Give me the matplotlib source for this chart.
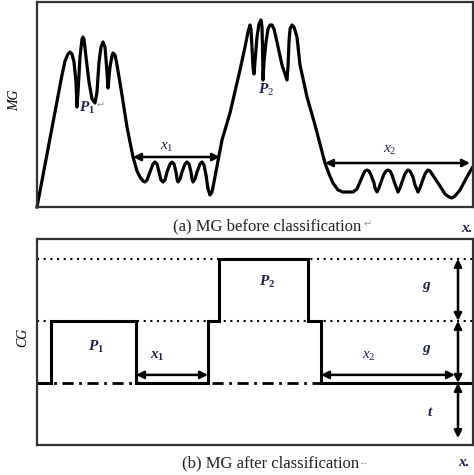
import matplotlib
matplotlib.use("Agg")
import matplotlib.pyplot as plt

plt.rcParams["font.family"] = ["Liberation Serif", "DejaVu Sans"]
plt.rcParams["mathtext.fontset"] = "custom"
plt.rcParams["mathtext.rm"] = "Liberation Serif"
plt.rcParams["mathtext.it"] = "Liberation Serif:italic"
plt.rcParams["mathtext.bf"] = "Liberation Serif:bold"
plt.rcParams["mathtext.bfit"] = "Liberation Serif:italic:bold"

# (a) MG curve before classification
mg_x = [0, 25, 28, 31, 33, 35, 37, 39, 40,
        41, 43, 45, 46, 47, 49, 52, 55, 58,
        60, 62, 64, 66, 68, 70, 71,
        73, 75, 76, 78, 80, 85, 90, 96, 100, 103, 106,
        108, 110, 113, 116, 118, 120, 122, 124, 126, 128, 130, 133, 135, 137, 139,
        140, 141, 143, 145, 148, 150, 152, 154, 155, 156, 158, 160, 163, 165, 167,
        169, 171, 173, 175, 177, 185, 193, 203, 208, 211, 213, 214, 215, 216, 217,
        218, 220, 222, 224, 225, 225.5, 226,
        227, 229, 231, 233, 235, 237, 240, 245, 250,
        251, 252, 253, 255, 257, 260, 263, 270, 278, 288, 292, 296, 301, 306, 316,
        320, 323, 326, 328, 330, 332, 334, 337, 338, 340, 342, 344, 347, 349, 351,
        353, 355, 358, 361, 363, 365, 368, 370, 371, 373, 376, 378, 381, 383, 385,
        388, 390, 391, 393, 397, 403, 408, 412, 415, 418, 423, 431, 437]
mg_y = [0, 132, 146, 153, 155, 153, 145, 125, 100,
        115, 150, 168, 170, 168, 150, 125, 108, 104,
        115, 145, 160, 165, 160, 135, 119,
        140, 151, 154, 152, 142, 112, 80, 50, 36, 30, 26,
        25, 27, 35, 43, 45, 43, 35, 27, 25, 27, 35, 43, 45, 43, 35,
        28, 25, 28, 35, 43, 45, 43, 35, 28, 25, 28, 35, 43, 45, 42,
        32, 18, 12, 15, 25, 67, 94, 137, 160, 175, 182, 178, 160, 140, 133,
        145, 170, 183, 187, 180, 160, 127,
        145, 165, 178, 182, 182, 178, 165, 142, 127,
        140, 165, 178, 182, 180, 170, 142, 110, 82, 44, 33, 24, 17, 15, 15,
        18, 25, 32, 36, 37, 36, 32, 24, 19, 15, 19, 25, 33, 36, 37,
        36, 32, 23, 15, 19, 25, 33, 36, 37, 36, 30, 22, 15, 19, 25,
        33, 36, 37, 36, 30, 21, 13, 10, 9, 11, 17, 32, 42]

# (b) CG step curve after classification
cg_edges = [0, 14, 99, 171, 182, 271, 284, 436]
cg_levels = [1, 2, 1, 2, 3, 2, 1]
base_level = 1
dot_levels = [2, 3]

fig = plt.figure(figsize=(4.74, 4.75), dpi=100)
ax1 = fig.add_axes([37 / 474, 1 - 207 / 475, 436 / 474, 205 / 475])
ax2 = fig.add_axes([37 / 474, 1 - 445 / 475, 436 / 474, 206 / 475])

for ax in (ax1, ax2):
    ax.set_xticks([])
    ax.set_yticks([])
    for s in ax.spines.values():
        s.set_linewidth(1.6)
        s.set_color("#333333")

lab_c = "#1c2250"

# ---- top panel
ax1.plot(mg_x, mg_y, color="k", lw=2.3, solid_joinstyle="round", clip_on=False)
ax1.set_xlim(0, 436)
ax1.set_ylim(0, 205)

arr = dict(arrowstyle="<|-|>", color="k", lw=1.8, mutation_scale=11, shrinkA=0, shrinkB=0)
ax1.annotate("", xy=(183, 50), xytext=(96, 50), arrowprops=arr)
ax1.annotate("", xy=(433, 44), xytext=(288, 44), arrowprops=arr)
ax1.text(130, 60, r"$x_{1}$", fontsize=11, color=lab_c, ha="center", va="center")
ax1.text(353, 57, r"$x_{2}$", fontsize=11, color=lab_c, ha="center", va="center")
ax1.text(50, 99, r"$\mathbfit{P}_{\mathbf{1}}$", fontsize=11, color=lab_c, ha="center", va="center")
ax1.text(60, 101, "\u21b5", fontsize=7, color="#999999", ha="left", va="center")
ax1.text(229, 117, r"$\mathbfit{P}_{2}$", fontsize=11, color=lab_c, ha="center", va="center")

# ---- bottom panel
ax2.set_xlim(0, 436)
ax2.set_ylim(0, 3.32)
for lv in dot_levels:
    ax2.axhline(lv, color="k", lw=1.5, ls=(0, (1, 2.2)))
ax2.axhline(base_level, color="k", lw=2, ls=(0, (4, 2, 1, 2)))
ax2.stairs(cg_levels, cg_edges, baseline=None, color="k", lw=2.2)

ax2.annotate("", xy=(171, 1.13), xytext=(99, 1.13), arrowprops=arr)
ax2.annotate("", xy=(418, 1.13), xytext=(284, 1.13), arrowprops=arr)
ax2.annotate("", xy=(421, 2), xytext=(421, 3), arrowprops=arr)
ax2.annotate("", xy=(421, 1), xytext=(421, 2), arrowprops=arr)
ax2.annotate("", xy=(421, 0.11), xytext=(421, 1), arrowprops=arr)

ax2.text(59, 1.58, r"$\mathbfit{P}_{\mathbf{1}}$", fontsize=11, color=lab_c, ha="center", va="center")
ax2.text(230, 2.63, r"$\mathbfit{P}_{\mathbf{2}}$", fontsize=11, color=lab_c, ha="center", va="center")
ax2.text(120, 1.42, r"$\mathbfit{x}_{\mathbf{1}}$", fontsize=11, color=lab_c, ha="center", va="center")
ax2.text(332, 1.42, r"$x_{2}$", fontsize=11, color=lab_c, ha="center", va="center")
ax2.text(390, 2.55, r"$\mathbfit{g}$", fontsize=11, color=lab_c, ha="center", va="center")
ax2.text(390, 1.53, r"$\mathbfit{g}$", fontsize=11, color=lab_c, ha="center", va="center")
ax2.text(393, 0.52, r"$\mathbfit{t}$", fontsize=11, color=lab_c, ha="center", va="center")

# ---- axis names and captions
fig.text(15 / 474, 1 - 100 / 475, "MG", fontsize=10, style="italic", rotation=90,
         ha="center", va="center")
fig.text(23 / 474, 1 - 337 / 475, "CG", fontsize=10, style="italic", rotation=90,
         ha="center", va="center")
fig.text(173 / 474, 1 - 226 / 475, "(a) MG before classification", fontsize=12,
         ha="left", va="center", color="#222222")
fig.text(364 / 474, 1 - 225 / 475, "\u21b5", fontsize=7, color="#999999", ha="left", va="center")
fig.text(182 / 474, 1 - 463 / 475, "(b) MG after classification", fontsize=12,
         ha="left", va="center", color="#222222")
fig.text(358 / 474, 1 - 463 / 475, "\u2190", fontsize=7, color="#999999", ha="left", va="center")
fig.text(461 / 474, 1 - 228 / 475, "x.", fontsize=11, style="italic", weight="bold",
         ha="left", va="center", color=lab_c)
fig.text(458 / 474, 1 - 462 / 475, "x.", fontsize=11, style="italic", weight="bold",
         ha="left", va="center", color=lab_c)

fig.savefig("out.png", dpi=100)
